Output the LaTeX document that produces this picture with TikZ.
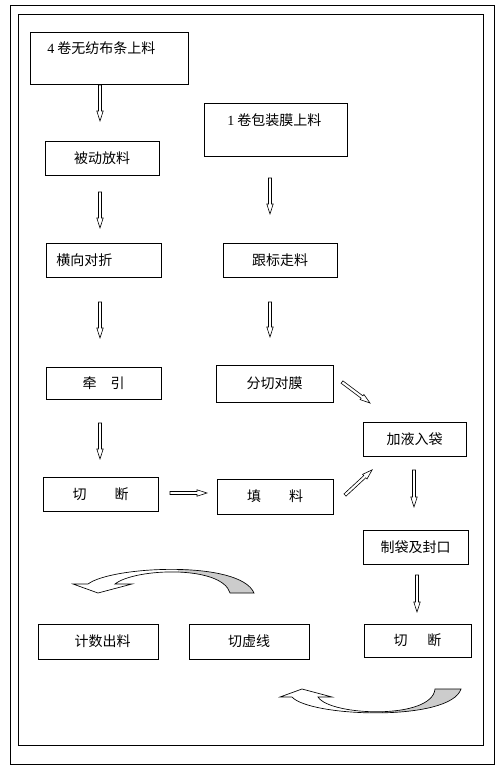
\documentclass[tikz,border=0pt]{standalone}
\usepackage{fontspec}
\setmainfont{Liberation Serif}
\newfontfamily\cjk{Noto Sans CJK SC}
\begin{document}
\begin{tikzpicture}[x=0.75pt,y=-0.75pt,
  box/.style={draw, line width=0.6pt, rectangle, inner sep=0pt,
    font=\cjk\fontsize{10.5}{12}\selectfont},
  lbl/.style={inner sep=0pt, font=\cjk\fontsize{10.5}{12}\selectfont},
  frame/.style={draw, line width=0.75pt},
  arrowline/.style={draw, line width=0.45pt, fill=white},
  curveline/.style={draw, line width=0.5pt},
  pics/barrow/.style={code={
    \draw[arrowline] (0,-1.5) -- ({#1-10},-1.5) -- ({#1-10},-3.2) -- (#1,0)
      -- ({#1-10},3.2) -- ({#1-10},1.5) -- (0,1.5) -- cycle;}}]
\useasboundingbox (0,0) rectangle (501,778);
% frames
\draw[frame] (10,5) rectangle (494,764);
\draw[frame] (18,14) rectangle (483,745);
% boxes
\node[box, minimum width=118.5pt, minimum height=39pt] (A) at (109,58) {};
\node[lbl, anchor=west] (At) at (47,48) {{\rmfamily 4} 卷无纺布条上料};
\node[box, minimum width=85.5pt, minimum height=25.5pt] (B) at (102,158) {被动放料};
\node[box, minimum width=107.25pt, minimum height=39.75pt] (C) at (275.5,129.5) {};
\node[lbl, anchor=west] (Ct) at (227,120) {{\rmfamily 1} 卷包装膜上料};
\node[box, minimum width=86.25pt, minimum height=25.5pt] (D) at (103.5,260) {};
\node[lbl, anchor=west] (Dt) at (56,260) {横向对折};
\node[box, minimum width=85.5pt, minimum height=25.5pt] (E) at (280,260) {跟标走料};
\node[box, minimum width=86.25pt, minimum height=24pt] (F) at (103.5,383) {牵\hspace{1em}引};
\node[box, minimum width=87.75pt, minimum height=27.75pt] (G) at (274.5,383.5) {分切对膜};
\node[box, minimum width=86.25pt, minimum height=25.5pt] (H) at (100.5,494) {切\hspace{2em}断};
\node[box, minimum width=87pt, minimum height=26.25pt] (I) at (275,496.5) {填\hspace{2em}料};
\node[box, minimum width=77.25pt, minimum height=25.5pt] (J) at (414.5,439) {加液入袋};
\node[box, minimum width=78.75pt, minimum height=25.5pt] (K) at (415.5,547) {制袋及封口};
\node[box, minimum width=80.25pt, minimum height=24.75pt] (L) at (417.5,640.5) {切\hspace{1.4em}断};
\node[box, minimum width=90pt, minimum height=26.25pt] (M) at (98,641.5) {\hspace{7pt}计数出料};
\node[box, minimum width=90pt, minimum height=26.25pt] (N) at (249,641.5) {切虚线};
% block arrows
\pic[rotate=-90] at (100,85) {barrow=36};
\pic[rotate=-90] at (270,178) {barrow=36};
\pic[rotate=-90] at (100,192) {barrow=36};
\pic[rotate=-90] at (100,302) {barrow=36};
\pic[rotate=-90] at (270,302) {barrow=35};
\pic[rotate=-90] at (100,423) {barrow=36};
\pic at (170,493) {barrow=37};
\pic[rotate=-36.9] at (342,382) {barrow=35};
\pic[rotate=42.8] at (345,495) {barrow=37};
\pic[rotate=-90] at (414,470) {barrow=37};
\pic[rotate=-90] at (417,575) {barrow=37};
% curved arrow 1
\fill[white] (88,584) .. controls (112,566) and (240,560) .. (254,593) -- (230,593)
  .. controls (222,565) and (135,568) .. (115,584) -- cycle;
\begin{scope}
\clip (178,550) rectangle (270,600);
\fill[gray!40] (88,584) .. controls (112,566) and (240,560) .. (254,593) -- (230,593)
  .. controls (222,565) and (135,568) .. (115,584) -- cycle;
\end{scope}
\draw[curveline] (98,593) -- (73,584) -- (88,584) .. controls (112,566) and (240,560) .. (254,593)
  -- (230,593) .. controls (222,565) and (135,568) .. (115,584) -- (132,584) -- cycle;
% curved arrow 2
\fill[white] (292,697) .. controls (310,717) and (450,722) .. (461,689) -- (435,689)
  .. controls (432,720) and (330,716) .. (318,697) -- cycle;
\begin{scope}
\clip (385,680) rectangle (470,720);
\fill[gray!40] (292,697) .. controls (310,717) and (450,722) .. (461,689) -- (435,689)
  .. controls (432,720) and (330,716) .. (318,697) -- cycle;
\end{scope}
\draw[curveline] (302,689) -- (280,697) -- (292,697) .. controls (310,717) and (450,722) .. (461,689)
  -- (435,689) .. controls (432,720) and (330,716) .. (318,697) -- (332,697) -- cycle;
\end{tikzpicture}
\end{document}
